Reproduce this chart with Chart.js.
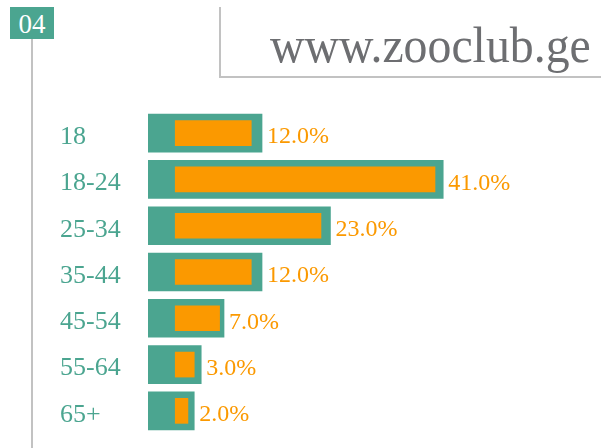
<!DOCTYPE html>
<html>
<head>
<meta charset="utf-8">
<script src="https://cdn.jsdelivr.net/npm/chart.js@4.4.1/dist/chart.umd.min.js"></script>
<style>
  html, body { margin: 0; padding: 0; background: #fff; }
  #wrap { position: relative; width: 606px; height: 448px; overflow: hidden; }
  #num { position: absolute; left: 10px; top: 7px; width: 44px; height: 32px; background: #4ba590;
         color: #fff; font: 27px "Liberation Serif", serif; text-align: center; line-height: 34px; }
  #vline { position: absolute; left: 31px; top: 39px; width: 2px; height: 420px; background: #c2c2c2; }
  #corner { position: absolute; left: 219px; top: 7px; width: 380px; height: 69px;
            border-left: 2px solid #c2c2c2; border-bottom: 2px solid #c2c2c2; }
  #site { position: absolute; left: 270px; top: 19px; color: #6d6e71;
          font: 47.8px "Liberation Serif", serif; white-space: nowrap;
          transform: scaleY(1.08); transform-origin: 0 100%; }
  #chartBox { position: absolute; left: 0; top: 0; width: 606px; height: 448px; }
</style>
</head>
<body>
<div id="wrap">
  <div id="chartBox"><canvas id="ages"></canvas></div>
  <div id="num">04</div>
  <div id="vline"></div>
  <div id="corner"></div>
  <div id="site">www.zooclub.ge</div>
</div>
<script>
const groups = ['18', '18-24', '25-34', '35-44', '45-54', '55-64', '65+']
const share = [12, 41, 23, 12, 7, 3, 2]
// teal frame behind each orange bar (start, end) in the same % units
const frameStart = -4.3
const frameEnd = [13.7, 42.3, 24.5, 13.7, 7.7, 4.1, 3.0]

const teal = '#4ba590'
const orange = '#fb9900'

// percentage text right after each frame
const valueLabels = {
  id: 'valueLabels',
  afterDatasetsDraw(chart) {
    const ctx = chart.ctx
    const frame = chart.getDatasetMeta(1)
    ctx.save()
    ctx.fillStyle = orange
    ctx.font = '24px "Liberation Serif", serif'
    ctx.textAlign = 'left'
    ctx.textBaseline = 'middle'
    frame.data.forEach((bar, i) => {
      const end = Math.max(bar.x, bar.base)
      ctx.fillText(share[i].toFixed(1) + '%', end + 5, bar.y + 4)
    })
    ctx.restore()
  }
}

new Chart(document.getElementById('ages'), {
  type: 'bar',
  data: {
    labels: groups,
    datasets: [{
      label: 'share',
      data: share,
      backgroundColor: orange,
      barThickness: 25,
      grouped: false,
      order: 0
    }, {
      label: 'frame',
      data: frameEnd.map(v => [frameStart, v]),
      backgroundColor: teal,
      barThickness: 38,
      grouped: false,
      order: 1
    }]
  },
  options: {
    indexAxis: 'y',
    responsive: true,
    maintainAspectRatio: false,
    animation: false,
    layout: { padding: { left: 60, right: 114, top: 110, bottom: 14 } },
    plugins: { legend: { display: false }, tooltip: { enabled: false } },
    scales: {
      x: { display: false, min: frameStart, max: 50 },
      y: {
        grid: { display: false },
        border: { display: false },
        afterFit(scale) {
          scale.width = 88
          scale.paddingTop = 0
          scale.paddingBottom = 0
        },
        ticks: {
          crossAlign: 'far',
          labelOffset: 4,
          color: teal,
          font: { family: '"Liberation Serif", serif', size: 26 }
        }
      }
    }
  },
  plugins: [valueLabels]
})
</script>
</body>
</html>
